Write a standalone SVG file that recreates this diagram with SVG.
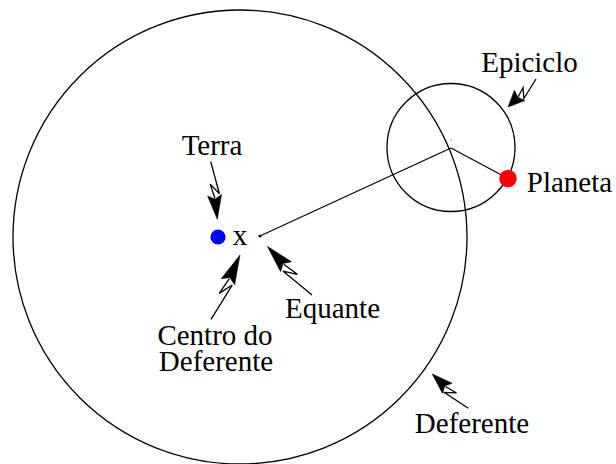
<svg xmlns="http://www.w3.org/2000/svg" xmlns:xlink="http://www.w3.org/1999/xlink" width="616" height="464" viewBox="0 0 616 464">
<style>
.ring{fill:none;stroke:#000;stroke-width:1.3}
.ln{fill:none;stroke:#000;stroke-width:1.2}
.lbl{font-family:"Liberation Serif","Times New Roman",serif;font-size:29px;fill:#000;text-anchor:middle}
.bl{fill:none;stroke:#000;stroke-width:1.3;vector-effect:non-scaling-stroke;stroke-linejoin:miter}
.bh{fill:#000;stroke:#000;stroke-width:0.6;vector-effect:non-scaling-stroke}
</style>
<defs>
<g id="bolt">
<path class="bl" d="M0,0 L34,-5 L23,3 L38,0"/>
<path class="bh" d="M35,-7 L60,0 L35,7 L39,0 Z"/>
</g>
</defs>
<rect width="616" height="464" fill="#fff"/>
<g id="deferente-circle"><circle class="ring" cx="240" cy="237" r="227"/></g>
<g id="epiciclo-circle"><circle class="ring" cx="451" cy="147.5" r="64"/></g>
<g id="connectors">
<line class="ln" x1="260" y1="236" x2="451" y2="148"/>
<line class="ln" x1="451" y1="148" x2="508" y2="178.5"/>
<circle cx="260" cy="236" r="1.6" fill="#000"/>
<circle cx="451" cy="140" r="0.7" fill="#777"/>
<use xlink:href="#bolt" transform="translate(210.7,161.7) rotate(83.46) scale(0.967,1)"/>
<use xlink:href="#bolt" transform="translate(211,319.3) rotate(-65.72) scale(1.175,-1.05)"/>
<use xlink:href="#bolt" transform="translate(312,295) rotate(-132.54) scale(1.097,1.05)"/>
<use xlink:href="#bolt" transform="translate(536,79) rotate(135) scale(0.66,1.05)"/>
<use xlink:href="#bolt" transform="translate(468.3,408.3) rotate(-136.38) scale(0.83,1.0)"/>
</g>
<g id="terra"><circle cx="218" cy="237" r="7.6" fill="#0000ff"/><text class="lbl" x="212" y="155">Terra</text></g>
<g id="centro"><text class="lbl" x="240" y="245">x</text><text class="lbl" x="215" y="345">Centro do</text><text class="lbl" x="216" y="371">Deferente</text></g>
<g id="equante"><text class="lbl" x="332.5" y="318">Equante</text></g>
<g id="planeta"><circle cx="508" cy="178.5" r="8.7" fill="#ff0000"/><text class="lbl" x="569.5" y="192">Planeta</text></g>
<g id="epiciclo"><text class="lbl" x="529.5" y="72">Epiciclo</text></g>
<g id="deferente"><text class="lbl" x="472" y="433">Deferente</text></g>
</svg>
